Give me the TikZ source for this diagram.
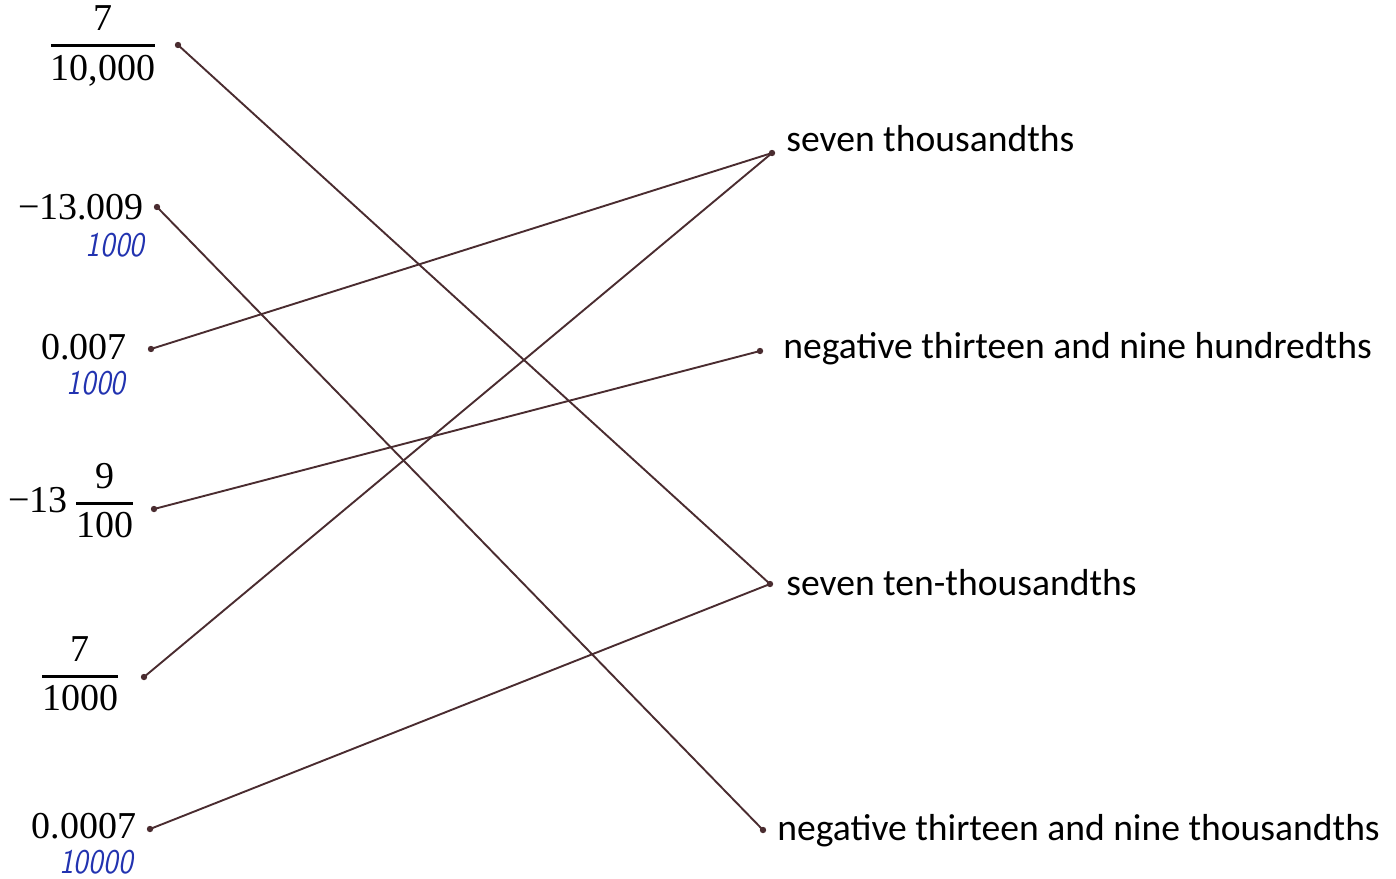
\documentclass[tikz,border=0pt]{standalone}
\usepackage{amsmath}
\usepackage{graphicx}
\usepackage{fontspec}
\newfontfamily\rightfont{Carlito}
\newfontfamily\numfont{Liberation Serif}
\definecolor{linec}{HTML}{4A2C30}
\definecolor{handblue}{HTML}{2233B0}
\newcommand{\fr}[2]{\genfrac{}{}{1.3pt}{0}{\text{#1}}{\text{#2}}}
\newcommand{\hw}[1]{\scalebox{1}[1.15]{#1}}
\tikzset{
  x=0.5pt, y=-0.5pt,
  dot/.style={circle, fill=linec, inner sep=0pt, minimum size=3.2pt},
  conn/.style={draw=linec, line width=0.95pt},
  leftlab/.style={inner sep=0pt, font=\numfont\fontsize{19}{22}\selectfont},
  rightlab/.style={inner sep=0pt, anchor=west, font=\rightfont\fontsize{18.8}{22}\selectfont},
  hand/.style={inner sep=0pt, text=handblue, font=\sffamily\itshape\fontsize{15}{17}\selectfont}
}
\begin{document}
\begin{tikzpicture}
\useasboundingbox (0,0) rectangle (1396,878);
% left labels
\node[leftlab] (a) at (103,46) {$\fr{7}{10,000}$};
\node[leftlab] (b) at (81,207) {−13.009};
\node[hand] (bh) at (115,245) {\hw{1000}};
\node[leftlab] (c) at (84,347) {0.007};
\node[hand] (ch) at (96,383) {\hw{1000}};
\node[leftlab] (d) at (72,501) {$\text{−13}\,\fr{9}{100}$};
\node[leftlab] (e) at (80,674) {$\fr{7}{1000}$};
\node[leftlab] (f) at (84,826) {0.0007};
\node[hand] (fh) at (96,862) {\hw{10000}};
% right labels
\node[rightlab] (p) at (786,139) {seven thousandths};
\node[rightlab] (q) at (783,349) {negative thirteen and nine hundredths};
\node[rightlab] (r) at (786,583) {seven ten-thousandths};
\node[rightlab] (s) at (777,831) {negative thirteen and nine thousandths};
% dots
\node[dot] (a1) at (178,45) {};
\node[dot] (b1) at (157,207) {};
\node[dot] (c1) at (151,349) {};
\node[dot] (d1) at (154,509) {};
\node[dot] (e1) at (144,677) {};
\node[dot] (f1) at (150,829) {};
\node[dot] (p1) at (772,153) {};
\node[dot] (q1) at (760,351) {};
\node[dot] (r1) at (770,584) {};
\node[dot] (s1) at (763,830) {};
% connectors
\draw[conn] (a1.center) -- (r1.center);
\draw[conn] (b1.center) -- (s1.center);
\draw[conn] (c1.center) -- (p1.center);
\draw[conn] (d1.center) -- (q1.center);
\draw[conn] (e1.center) -- (p1.center);
\draw[conn] (f1.center) -- (r1.center);
\end{tikzpicture}
\end{document}
